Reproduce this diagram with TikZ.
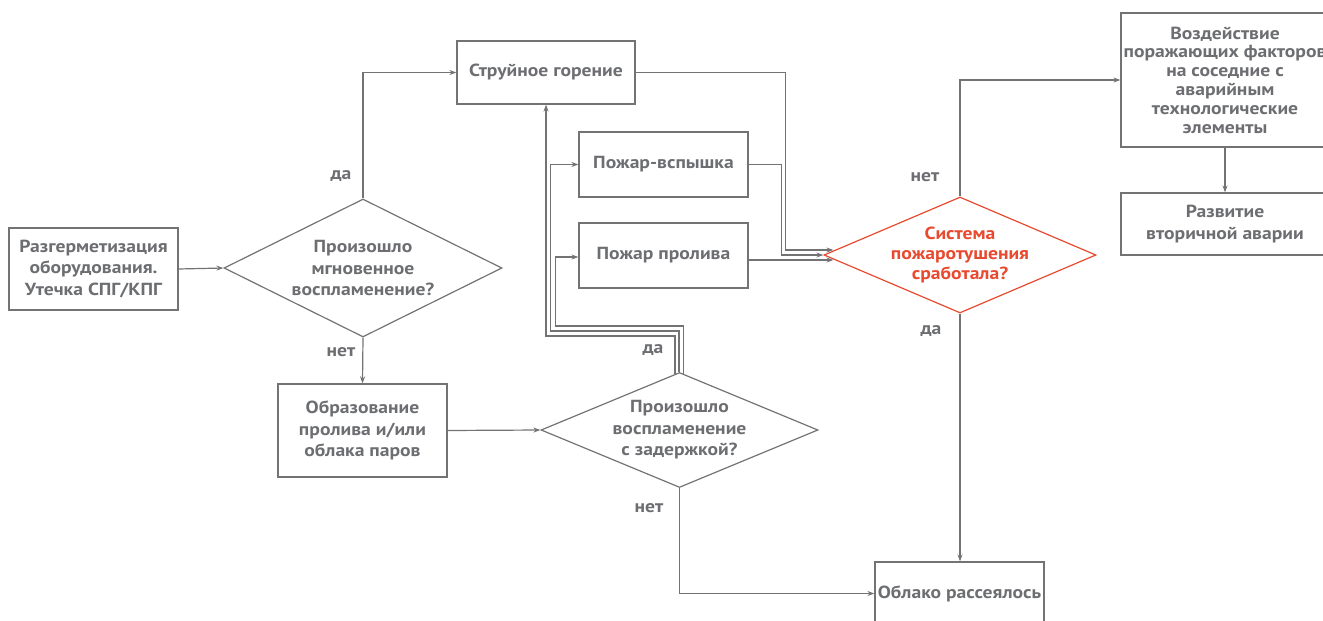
\documentclass[tikz,border=0pt]{standalone}
\usepackage{fontspec}
\setmainfont{PT Sans}[FakeStretch=1.12]
\usetikzlibrary{arrows.meta,shapes.geometric,calc}
\definecolor{ink}{HTML}{6D6E71}
\definecolor{wire}{HTML}{737373}
\definecolor{alert}{HTML}{E84A30}
\begin{document}
\begin{tikzpicture}[x=1pt,y=-1pt,
  txt/.style={font=\bfseries\fontsize{17.5}{21.5}\selectfont, text=ink, align=center, inner sep=0pt},
  stepbox/.style={draw=wire, line width=1.2pt, rectangle, inner sep=0pt, txt},
  dia/.style={draw=wire, line width=1.2pt, diamond, inner sep=0pt},
  arr/.style={draw=wire, line width=1.2pt, -{Stealth[length=7pt,width=5pt]}},
  lbl/.style={txt}
]
\path[use as bounding box, clip] (0,0) rectangle (1323,621);

% boxes
\node[stepbox, minimum width=169pt, minimum height=82pt] (leak) at (93.5,269)
  {Разгерметизация\\оборудования.\\Утечка СПГ/КПГ};
\node[stepbox, minimum width=178pt, minimum height=63pt] (jet) at (546,72.5) {Струйное горение};
\node[stepbox, minimum width=169pt, minimum height=65pt] (flash) at (663.5,164.5) {Пожар-вспышка};
\node[stepbox, minimum width=169pt, minimum height=65pt] (spill) at (663.5,255.5) {Пожар пролива};
\node[stepbox, minimum width=169pt, minimum height=93pt] (pool) at (362.5,430.5)
  {Образование\\пролива и/или\\облака паров};
\node[stepbox, minimum width=169pt, minimum height=63pt] (cloud) at (959.5,593.5) {Облако рассеялось};
\node[stepbox, minimum width=208pt, minimum height=134pt,
  font=\bfseries\fontsize{17.5}{18.8}\selectfont] (impact) at (1225,80)
  {Воздействие\\поражающих факторов\\на соседние с\\аварийным\\технологические\\элементы};
\node[stepbox, minimum width=208pt, minimum height=62pt] (second) at (1225,224)
  {Развитие\\вторичной аварии};

% decisions
\node[dia, minimum width=278pt, minimum height=138pt,
  label={[txt]center:{Произошло\\мгновенное\\воспламенение?}}] (d1) at (363,268) {};
\node[dia, minimum width=277pt, minimum height=115pt,
  label={[txt]center:{Произошло\\воспламенение\\с задержкой?}}] (d2) at (679.5,430) {};
\node[dia, draw=alert, minimum width=272pt, minimum height=116pt,
  label={[txt, text=alert, font=\bfseries\fontsize{17.5}{20}\selectfont]center:{Система\\пожаротушения\\сработала?}}] (d3) at (960,255) {};

% connectors
\draw[arr] (leak.east) -- (d1.west);
\draw[arr] (d1.north) |- (jet.west);
\draw[arr] (d1.south) -- (pool.north);
\draw[arr] (pool.east) -- (d2.west);
\draw[arr] (d2.south) |- (cloud.west);

% delayed ignition: three parallel branches
\draw[arr] ($(d2.north)+(-4.5,2)$) -- ++(0,-38) -| (jet.south);
\draw[arr] ($(d2.north)+(-0.5,0)$) -- ++(0,-41) -| ($(flash.west)+(-28,0)$) -- (flash.west);
\draw[arr] ($(d2.north)+(4,2)$) -- ++(0,-48) -| ($(spill.west)+(-23,1.5)$) -- ($(spill.west)+(0,1.5)$);

% fire branches into the suppression check
\draw[arr] (jet.east) -| ($(d3.west)+(-38,-5)$) -- ($(d3.west)+(10,-5)$);
\draw[arr] (flash.east) -| ($(d3.west)+(-42,0)$) -- (d3.west);
\draw[arr] ($(spill.east)+(0,4.5)$) -- ($(d3.west)+(10,5)$);

\draw[arr] (d3.north) |- (impact.west);
\draw[arr] (impact.south) -- (second.north);
\draw[arr] (d3.south) -- (d3.south |- cloud.north);

% branch labels
\node[lbl] (l1) at (341,176) {да};
\node[lbl] (l2) at (341,352) {нет};
\node[lbl] (l3) at (653,350) {да};
\node[lbl] (l4) at (649,508) {нет};
\node[lbl] (l5) at (925,177) {нет};
\node[lbl] (l6) at (931,331) {да};
\end{tikzpicture}
\end{document}
